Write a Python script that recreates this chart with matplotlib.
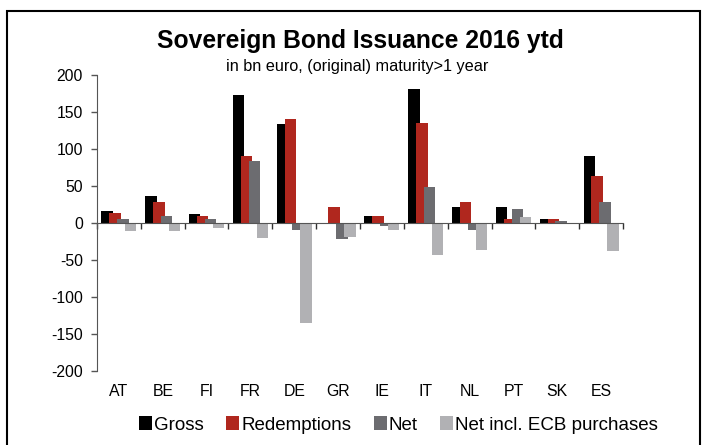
import numpy as np
import matplotlib
matplotlib.use("Agg")
from matplotlib import pyplot as plt
from matplotlib.patches import Rectangle

plt.rcParams['font.family'] = ['Liberation Sans', 'DejaVu Sans']
plt.rcParams['axes.unicode_minus'] = False

countries = ["AT", "BE", "FI", "FR", "DE", "GR", "IE", "IT", "NL", "PT", "SK", "ES"]
gross = [16, 36, 12, 173, 134, 0, 9, 181, 22, 21, 6, 91]
redemptions = [13, 28, 9, 91, 141, 21, 10, 135, 29, 5, 5, 64]
net = [6, 10, 5, 84, -10, -21, -4, 48, -10, 19, 3, 29]
net_ecb = [-11, -11, -7, -20, -135, -19, -10, -43, -37, 8, -1, -38]

series = [("Gross", gross, "#000000"),
          ("Redemptions", redemptions, "#B0271E"),
          ("Net", net, "#6C6C70"),
          ("Net incl. ECB purchases", net_ecb, "#B1B1B4")]

fig = plt.figure(figsize=(7.05, 4.45), dpi=100)
ax = fig.add_axes([97/705, 1-371/445, 526/705, 296/445])

x = np.arange(len(countries))
w = 0.26
step = 0.18
for i, (name, vals, col) in enumerate(series):
    pos = x - 0.4 + w/2 + i*step
    ax.bar(pos, vals, width=w, color=col, label=name, zorder=2+i)

ax.set_xlim(-0.5, len(countries) - 0.5)
ax.set_ylim(-200, 200)
ax.set_yticks(range(-200, 201, 50))
ax.tick_params(axis='y', direction='out', length=4, width=1, color='#555555',
               labelsize=11.3, pad=6)

for s in ['top', 'right']:
    ax.spines[s].set_visible(False)
ax.spines['left'].set_color('#555555')
ax.spines['bottom'].set_position(('data', 0))
ax.spines['bottom'].set_color('#555555')
ax.spines['bottom'].set_zorder(10)

ax.set_xticks(x)
ax.set_xticklabels([])
ax.tick_params(axis='x', which='major', length=0)
ax.set_xticks(np.arange(-0.5, len(countries), 1), minor=True)
ax.tick_params(axis='x', which='minor', direction='out', length=4, width=1, color='#333333')

for xi, c in zip(x, countries):
    ax.text(xi, -0.068, c, transform=ax.get_xaxis_transform(), ha='center', va='center',
            fontsize=11.4)

fig.text(0.511, 1-41/445, "Sovereign Bond Issuance 2016 ytd", ha='center', va='center',
         fontsize=17.7, fontweight='bold')
fig.text(0.507, 1-66/445, "in bn euro, (original) maturity>1 year", ha='center', va='center',
         fontsize=11.7)

fig.legend(loc='center', bbox_to_anchor=(0.565, 1-425/445), ncol=4, frameon=False,
           fontsize=13.5, handlelength=0.7, handleheight=0.7, handletextpad=0.1,
           columnspacing=1.2)

fig.patches.append(Rectangle((7/705, -0.05), 693/705, 1.05 - 11/445, transform=fig.transFigure,
                             fill=False, edgecolor='black', linewidth=1.5))

fig.savefig("out.png", dpi=100)
